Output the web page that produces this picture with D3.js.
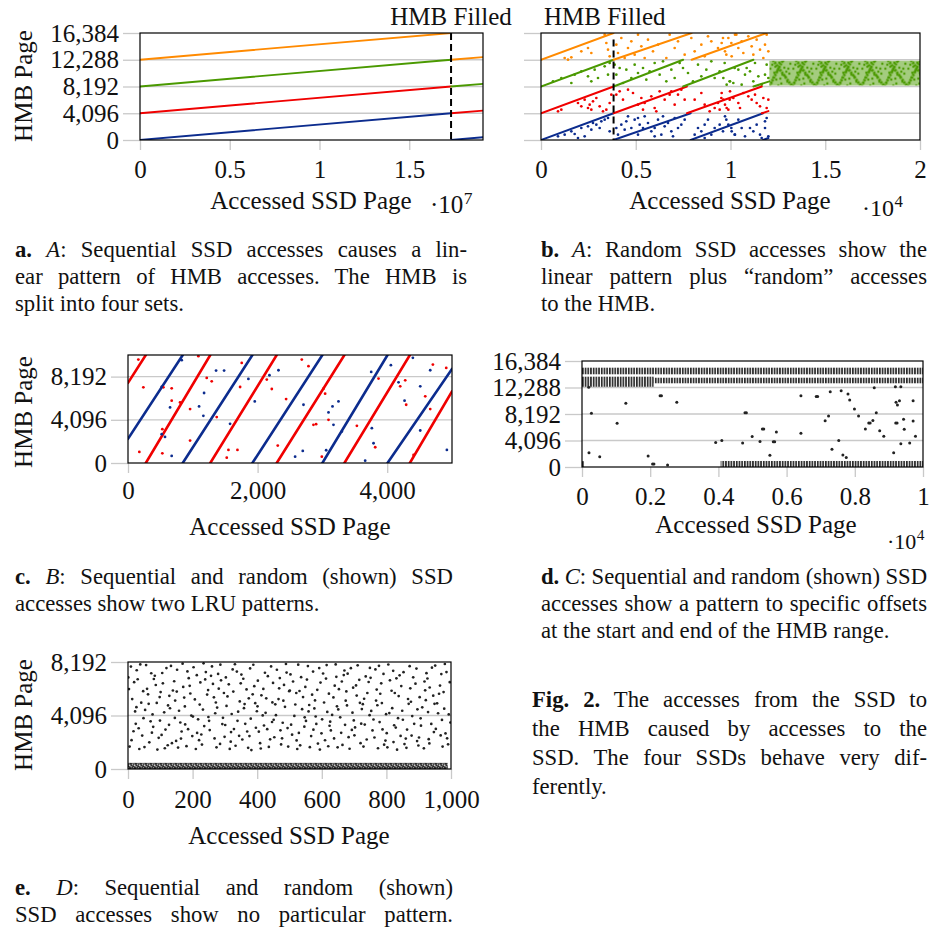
<!DOCTYPE html>
<html><head><meta charset="utf-8">
<script src="https://cdn.jsdelivr.net/npm/d3@7"></script>
<style>
html,body{margin:0;padding:0;background:#fff;}
svg text{font-family:"Liberation Serif","DejaVu Serif",serif;fill:#111;}
</style></head>
<body><svg id="fig" width="930" height="931"></svg>
<script>
// ---------------- DATA ----------------
const hmbTicks = [0, 4096, 8192, 12288, 16384];
// (a) sequential accesses, line segments [x0,y0,x1,y1]
const aFilled = 17330000;
const aBlue   = [[0,0,17330000,4096],[17330000,0,19110000,420]];
const aRed    = [[0,4096,17330000,8192],[17330000,4096,19110000,4500]];
const aGreen  = [[0,8192,17330000,12288],[17330000,8192,19110000,8600]];
const aOrange = [[0,12288,17330000,16384],[17330000,12288,19110000,12680]];
// (b) random accesses
const bFilled = 3830;
const bBlueLines   = [[0,0,3830,4096],[3830,0,7900,4096],[7900,0,11720,4096],[11720,0,12000,300]];
const bRedLines    = [[0,4096,3830,8192],[3830,4096,7700,8192],[7700,4096,11650,8192],[11650,4096,12000,4420]];
const bGreenLines  = [[0,8192,3830,12288],[3830,8192,7500,12288],[7500,8192,11210,12288],[11210,8192,12050,8980]];
const bOrangeLines = [[0,12288,3830,16384],[3830,12288,7950,16384],[7950,12288,11900,16384]];
const bBluePts = [[897,562],[1249,817],[1601,1327],[1777,919],[2128,1837],[2480,2093],[2656,1582],[2744,2603],[2920,2348],[3096,1837],[3184,2858],[3360,3113],[1952,306],[2304,562],[3624,1327],[3536,3368],
 [3975,1837],[4063,817],[4239,2348],[4415,1582],[4503,2858],[4591,3623],[4767,1837],[4943,3113],[5119,3368],[5207,2348],[5383,1837],[5470,3623],[5646,2603],[5822,1327],[5998,1837],[6174,3113],[6350,817],[6526,2093],[6702,2603],[6878,1327],[6966,562],[7054,3368],[7230,1837],[7405,2348],[7581,3113],[5119,817],[5998,562],[6438,3623],
 [8109,817],[8285,1837],[8461,1327],[8637,2348],[8812,3113],[8988,817],[9164,1837],[9428,2348],[9604,1327],[9780,3113],[10044,1837],[10220,817],[8637,306],
 [9710,3623],[9886,2348],[10061,1327],[10237,817],[10413,3113],[10589,1837],[10765,562],[11029,1837],[11205,1327],[11381,2348],[11557,817],[11645,306],[11821,1837],[11909,3368],[11997,562],[11821,2858]];
const bRedPts = [[897,4389],[1073,4644],[1952,5664],[2128,5154],[2304,6174],[2480,4899],[2568,5409],[2656,4644],[2744,5919],[2920,6429],[3096,5154],[3272,4389],[3448,4644],[3624,5664],[3712,6939],
 [3975,6939],[4151,7450],[4327,6174],[4591,7705],[4855,7194],[5119,5409],[5295,6429],[5383,4644],[5470,5664],[5822,6684],[5998,4899],[6086,4389],[6262,7450],[6526,6174],[6790,6939],[6878,7450],[7054,5409],[7230,6939],[7405,7705],[7581,6174],
 [8109,6174],[8461,7194],[8637,5409],[8900,4389],[9164,4899],[9340,5664],[9516,6429],[9428,4644],[9956,6174],
 [9534,7194],[9622,6174],[9710,5409],[9798,4899],[9886,4644],[9974,7450],[10149,6429],[10413,5664],[10501,4899],[10677,7194],[10941,6684],[11117,6174],[11293,6939],[11381,5664],[11557,5154],[11733,6429],[11909,4899],[11997,6174]];
const bGreenPts = [[633,8982],[1073,9493],[1601,8727],[1777,10003],[2128,10513],[2480,9748],[2656,8982],[2832,10768],[3008,9493],[3360,11279],[3536,10003],[3624,11789],
 [3888,11534],[3975,10003],[4151,11023],[4327,8727],[4503,10768],[4767,9493],[4943,11534],[5119,10258],[5383,11023],[5558,9238],[5734,10513],[5998,11789],[6262,10003],[6438,12044],[6614,8982],[6878,10768],[7054,9493],[7317,11789],[7493,11023],[7757,10258],
 [8021,8982],[8285,11534],[8461,9748],[8725,10768],[8988,12044],[9164,9493],[9428,10513],[9692,11789],[9956,8982],[10220,11023],
 [9622,9493],[9798,8472],[9974,8982],[10149,8727],[10413,10768],[10589,8472],[10765,10003],[10853,11023],[11029,10513],[11205,8982],[11293,11789],[11469,9748],[11645,8472],[11821,10003],[11909,11534],[11997,9493]];
const bOrangePts = [[1249,12555],[1425,12300],[1601,12657],[2128,13575],[2480,14086],[2656,13320],[3360,16126],[3448,14851],[3536,13830],[3624,12810],
 [3975,14596],[4063,13320],[4239,15616],[4415,12555],[4591,14086],[4767,15106],[4943,13065],[5119,16126],[5295,14341],[5470,12555],[5646,15361],[5910,13575],[6174,14596],[6614,12555],[6790,16126],[7054,14086],[7230,15106],[7581,13065],
 [7933,15616],[8109,13575],[8461,14596],[8637,12810],[8812,15871],[8988,15106],[9340,14086],[9604,15616],[9780,13065],[10044,14851],[10308,16126],
 [9534,14851],[9710,13575],[9886,15616],[10061,12810],[10237,16126],[10413,14086],[10589,15106],[10677,13320],[10941,15871],[11117,14341],[11205,13065],[11381,15361],[11557,13830],[11733,12555],[11821,14596],[11909,16126],[11997,13575]];
const bGreenBand = [12050, 20000, 8192, 12288]; // x0,x1,y0,y1 dense region
// (c) two LRU patterns
const cBlueLines = [[0,2290,845,10240],[845,0,1920,10240],[1920,0,3000,10240],[3000,0,4005,10240],[4005,0,5000,8925]];
const cRedLines  = [[0,7600,275,10240],[275,0,1270,10240],[1270,0,2295,10240],[2295,0,3340,10240],[3340,0,4350,10240],[4350,0,5000,6790]];
const cRedPts = [[160,9810],[237,7176],[175,1048],[530,920],[530,3207],[546,7176],[674,5906],[674,7080],[803,5747],[958,5112],[958,2127],[1086,10130],[1215,8065],[1292,7747],[1369,4350],[1524,508],[1550,1238],[1689,1238],[1730,7207],[1755,9493],[2142,7906],[2219,7017],[2440,6064],[2311,1651],[2682,9810],[2785,9176],[2862,3620],[2903,3683],[2991,603],[3017,7049],[3042,6572],[3094,4096],[3532,3524],[3866,8001],[3815,1492],[4201,7271],[4278,7842],[4293,5525],[4407,762],[4587,6318],[4664,5112],[4705,9335],[4911,9017]];
const cBluePts = [[829,9747],[520,7207],[520,2730],[571,2476],[649,5270],[674,667],[1097,5366],[1163,4477],[1174,6636],[1359,8763],[1483,8763],[1575,3715],[1858,7969],[1956,5842],[2183,8318],[2322,8795],[2708,5525],[2579,603],[2697,1143],[3058,1207],[3094,4794],[3156,5366],[3171,3620],[3248,5842],[3300,2984],[3660,222],[3753,8636],[3763,3302],[3789,1873],[4057,9271],[4175,7652],[4268,5906],[4396,9970],[4510,7271],[4510,3080],[4664,8795],[4921,1238]];
// (d) offsets at start and end of HMB range: dense bands [x0,x1,y0,y1]
const dBands = [[0,10000,14330,15350],[0,2100,12400,13960],[2100,10000,12940,13800],[4066,10000,0,930],[0,60,0,900]];
const dPts = [[197,12320],[276,8300],[205,2210],[520,1600],[1030,6750],[1285,9840],[1940,1700],[2070,470],[2110,470],[2290,11030],[2330,11030],[2510,320],[2780,10000],[3920,3800],[4100,4100],[4710,3700],[4780,8400],[4820,8400],[4990,4700],[5220,3930],[5290,5890],[5330,5890],[5510,1800],[5610,3900],[5650,3900],[5700,5400],[6420,11010],[6420,5200],[6870,10900],[6910,10900],[7130,7130],[7230,7900],[7280,11650],[7330,2750],[7530,4100],[7600,11800],[7650,1850],[7750,1480],[7800,11300],[7850,10350],[7990,8970],[8110,7900],[8310,5890],[8410,6820],[8450,6820],[8530,7180],[8570,12260],[8630,8400],[8730,5610],[8850,4750],[9140,2210],[9190,12410],[9200,6820],[9240,6820],[9210,9990],[9250,9600],[9310,10250],[9350,12410],[9350,3600],[9430,7380],[9450,5830],[9610,3710],[9710,10250],[9710,7120],[9780,4750]];
// (e) no particular pattern
const eBand = [0, 990, 0, 470];
const ePts = [
[3,6120],[17,2890],[9,7840],[22,4410],[5,1720],[13,5350],[24,3460],[1,7010],[19,6650],[11,2210],
[41,5080],[27,7560],[35,1530],[48,3890],[30,6870],[44,2560],[38,8010],[26,4730],[47,5960],[33,3120],
[66,2040],[53,4520],[72,7330],[59,6140],[51,1680],[70,3650],[62,5720],[56,7960],[74,2780],[64,4990],
[83,7140],[98,5510],[78,3230],[91,1490],[86,6430],[76,4180],[95,2390],[80,6890],[89,5060],[99,3710],
[104,2610],[119,7730],[112,4340],[101,5890],[123,1820],[108,6560],[116,3020],[124,4870],[106,7350],[114,1590],
[139,6010],[127,3380],[146,5240],[133,7890],[149,2150],[130,4650],[143,6720],[136,1980],[128,5600],[145,3910],
[158,4460],[171,6280],[152,7600],[166,2870],[174,5470],[155,1640],[162,3560],[169,8060],[151,5930],[164,2330],
[181,1750],[196,4090],[188,6950],[177,3410],[193,5780],[199,2520],[184,7470],[176,4790],[191,6370],[186,3050],
[207,5330],[220,2210],[213,7180],[201,4010],[224,6630],[210,1530],[217,3800],[203,7790],[222,4930],[214,2760],
[236,3290],[248,6040],[229,1870],[241,7420],[232,4550],[245,5700],[227,2640],[239,6860],[249,3980],[234,8090],
[263,6510],[253,2980],[270,4270],[257,7130],[274,1660],[266,5490],[251,3690],[260,7850],[268,2340],[272,5090],
[285,1920],[297,5820],[279,7280],[292,3440],[276,4700],[288,6790],[299,2460],[281,6150],[294,3920],[286,7990],
[305,4830],[318,2090],[312,6480],[301,3370],[324,7620],[308,5560],[315,1540],[321,4210],[303,7010],[319,2830],
[337,7460],[328,3060],[346,5170],[333,1780],[349,6560],[341,4390],[326,5930],[344,2540],[331,8020],[339,3690],
[354,2260],[367,6090],[359,4660],[372,1620],[351,7230],[363,3460],[374,5410],[357,6910],[369,2870],[361,4970],
[386,5720],[378,7700],[396,3160],[382,1450],[391,6340],[399,4420],[376,2520],[388,7980],[394,5040],[380,3850],
[409,1980],[402,6760],[417,4100],[424,7370],[405,2860],[413,5640],[421,3330],[401,4800],[419,6130],[411,1570],
[433,7110],[446,3600],[428,5410],[440,2270],[449,6590],[436,1690],[426,4300],[443,7850],[431,3050],[447,5100],
[458,4120],[470,6960],[453,2430],[466,5350],[474,1880],[461,7600],[451,3770],[468,6180],[456,4950],[472,2960],
[483,6440],[496,1720],[479,3540],[491,7380],[486,4760],[499,5960],[477,2350],[489,8040],[494,3130],[481,5230],
[508,2630],[521,5820],[503,7240],[515,4060],[524,1530],[511,6700],[505,3390],[518,4940],[501,6010],[522,2190],
[539,4580],[527,7990],[546,3240],[533,1810],[549,6280],[542,5510],[529,2760],[536,7030],[547,3960],[531,5970],
[554,6850],[567,2520],[559,4410],[573,7460],[551,3680],[563,1670],[570,5690],[557,7880],[574,3010],[561,4900],
[588,1950],[579,5250],[596,6620],[583,3450],[592,7730],[599,2730],[577,4640],[586,6060],[594,1490],[581,4020],
[604,7310],[617,4370],[610,2200],[622,5770],[601,3800],[613,6920],[620,1740],[607,5090],[624,3310],[615,7960],
[636,5480],[628,2950],[645,7060],[632,4140],[649,1660],[640,6380],[626,3620],[643,8010],[638,2340],[647,4800],
[657,3960],[670,7540],[653,6110],[664,1840],[674,5230],[660,2770],[668,7190],[651,4560],[672,3380],[662,6700],
[683,2440],[697,6230],[678,4870],[690,7720],[686,1550],[699,3720],[676,5940],[693,2990],[680,7300],[695,4310],
[708,5620],[720,1980],[703,3180],[716,6830],[724,4590],[711,7940],[701,2580],[718,5070],[706,6400],[722,3470],
[736,7090],[748,4120],[729,1720],[741,5820],[733,3400],[745,6660],[727,4960],[739,2260],[749,7740],[731,5380],
[757,2950],[770,6080],[753,4450],[766,7620],[774,1590],[760,3790],[768,5240],[751,6980],[763,2410],[772,4880],
[784,6560],[797,2180],[779,3590],[791,7280],[786,5050],[799,4200],[777,7900],[793,1860],[781,5760],[788,3030],
[809,4280],[821,7520],[803,1660],[816,5990],[824,3350],[811,6790],[801,2740],[818,4660],[806,8000],[822,2060],
[838,5580],[829,3170],[846,6350],[833,1480],[849,4460],[841,7170],[826,5820],[844,2530],[831,6940],[836,3890],
[856,1910],[869,4990],[853,7410],[864,3020],[874,6180],[860,2330],[867,5360],[851,3770],[872,7870],[862,1620],
[883,7020],[896,4570],[878,2560],[890,6530],[886,3460],[899,1800],[876,5150],[893,7690],[880,4050],[895,2140],
[907,3320],[920,6020],[903,5500],[916,1580],[924,7340],[911,4720],[901,2410],[918,6700],[906,3880],[922,5270],
[934,6240],[947,2830],[929,4360],[941,7760],[933,1960],[945,5610],[927,6930],[939,3450],[949,4990],[931,2280],
[957,5030],[970,7270],[953,3070],[966,6390],[974,1720],[960,4270],[968,2570],[951,7920],[963,5760],[972,3760],
[983,2720],[996,6650],[979,4620],[991,1890],[986,7420],[998,3560],[977,5890],[993,4180],[981,8040],[988,2350]];

const xLabel = "Accessed SSD Page", yLabel = "HMB Page", filledLabel = "HMB Filled";
// captions: each line = list of [text, style]  (b=bold, i=italic), j = justified
const capA = [{j:1,p:[["a.","b"],[" "],["A","i"],[": Sequential SSD accesses causes a lin-"]]},
              {j:1,p:[["ear pattern of HMB accesses. The HMB is"]]},
              {j:0,p:[["split into four sets."]]}];
const capB = [{j:1,p:[["b.","b"],[" "],["A","i"],[": Random SSD accesses show the"]]},
              {j:1,p:[["linear pattern plus \u201Crandom\u201D accesses"]]},
              {j:0,p:[["to the HMB."]]}];
const capC = [{j:1,p:[["c.","b"],[" "],["B","i"],[": Sequential and random (shown) SSD"]]},
              {j:0,p:[["accesses show two LRU patterns."]]}];
const capD = [{j:1,p:[["d.","b"],[" "],["C","i"],[": Sequential and random (shown) SSD"]]},
              {j:1,p:[["accesses show a pattern to specific offsets"]]},
              {j:0,p:[["at the start and end of the HMB range."]]}];
const capE = [{j:1,p:[["e.","b"],[" "],["D","i"],[": Sequential and random (shown)"]]},
              {j:1,p:[["SSD accesses show no particular pattern."]]}];
const capFig = [{j:1,p:[["Fig. 2.","b"],[" The accesses from the SSD to"]]},
                {j:1,p:[["the HMB caused by accesses to the"]]},
                {j:1,p:[["SSD. The four SSDs behave very dif-"]]},
                {j:0,p:[["ferently."]]}];

// ---------------- STYLE ----------------
const BLUE="#0c2c8e", RED="#f00000", GREEN="#4a9900", ORANGE="#ff8a00", DARK="#222";
const GRID="#c9c9c9", FS=25, CAP=22.7;
const svg = d3.select("#fig");
const defs = svg.append("defs");

function panel(o){
  const x = d3.scaleLinear().domain(o.xDomain).range([o.left,o.right]);
  const y = d3.scaleLinear().domain(o.yDomain).range([o.bottom,o.top]);
  const g = svg.append("g");
  g.append("g").selectAll("line").data(o.yGrid).join("line")
    .attr("x1",o.left).attr("x2",o.right).attr("y1",d=>y(d)).attr("y2",d=>y(d))
    .attr("stroke",GRID).attr("stroke-width",1.3);
  const ya = g.append("g").attr("transform",`translate(${o.left},0)`)
    .call(d3.axisLeft(y).tickValues(hmbTicks.filter(v=>v<=o.yDomain[1])).tickSize(17).tickPadding(4).tickFormat(o.yFmt));
  const xa = g.append("g").attr("transform",`translate(0,${o.bottom})`)
    .call(d3.axisBottom(x).tickValues(o.xTicks).tickSize(10).tickPadding(o.xPad).tickFormat(o.xFmt));
  [ya,xa].forEach(a=>{
    a.attr("font-family",null).attr("font-size",null);
    a.select(".domain").remove();
    a.selectAll(".tick line").attr("stroke",GRID).attr("stroke-width",1.3);
    a.selectAll(".tick text").attr("font-size",FS).attr("fill","#111");
  });
  const id="clip_"+o.name;
  defs.append("clipPath").attr("id",id).append("rect")
    .attr("x",o.left).attr("y",o.top).attr("width",o.right-o.left).attr("height",o.bottom-o.top);
  const data = g.append("g").attr("clip-path",`url(#${id})`);
  return {x,y,g,data,o};
}
function frame(P){
  const o=P.o;
  P.g.append("rect").attr("x",o.left).attr("y",o.top).attr("width",o.right-o.left).attr("height",o.bottom-o.top)
    .attr("fill","none").attr("stroke","#000").attr("stroke-width",1.2);
}
function segs(P, arr, color, w){
  P.data.selectAll(null).data(arr).join("line")
    .attr("x1",d=>P.x(d[0])).attr("y1",d=>P.y(d[1])).attr("x2",d=>P.x(d[2])).attr("y2",d=>P.y(d[3]))
    .attr("stroke",color).attr("stroke-width",w).attr("stroke-linecap","round");
}
function dots(P, arr, color, r){
  P.data.selectAll(null).data(arr).join("circle")
    .attr("cx",d=>P.x(d[0])).attr("cy",d=>P.y(d[1])).attr("r",r).attr("fill",color);
}
function xTitle(cx, base){ svg.append("text").attr("x",cx).attr("y",base).attr("text-anchor","middle").attr("font-size",FS).text(xLabel); }
function yTitle(cx, cy){ svg.append("text").attr("transform",`translate(${cx},${cy}) rotate(-90)`).attr("text-anchor","middle").attr("font-size",FS).text(yLabel); }
function expo(x, base, e, fs){
  const t=svg.append("text").attr("x",x).attr("y",base).attr("font-size",fs).text("\u00B710");
  svg.append("text").attr("x",x+t.node().getComputedTextLength()+0.5).attr("y",base-9).attr("font-size",fs*0.7).text(e);
}
function caption(x, y0, width, lh, lines){
  lines.forEach((ln,i)=>{
    const t=svg.append("text").attr("x",x).attr("y",y0+i*lh).attr("font-size",CAP);
    ln.p.forEach(p=>{
      const s=t.append("tspan").text(p[0]);
      if(p[1]==="b") s.attr("font-weight","bold");
      if(p[1]==="i") s.attr("font-style","italic");
    });
    if(ln.j){
      const w=t.node().getComputedTextLength();
      const n=(t.text().match(/ /g)||[]).length;
      if(n) t.attr("word-spacing",((width-w)/n).toFixed(2));
    }
  });
}
const f1 = d3.format(",");
const fr = k => d => String(+(d/k).toFixed(2));

// ---------------- (a) ----------------
const A = panel({name:"a",left:140,right:483,top:33,bottom:140,xDomain:[0,19110000],yDomain:[0,16384],
  yGrid:[4096,8192,12288],yFmt:f1,xTicks:[0,5e6,1e7,1.5e7],xFmt:fr(1e7),xPad:10});
segs(A,aBlue,BLUE,1.8); segs(A,aRed,RED,1.8); segs(A,aGreen,GREEN,1.8); segs(A,aOrange,ORANGE,1.8);
A.g.append("line").attr("x1",A.x(aFilled)).attr("x2",A.x(aFilled)).attr("y1",A.y(16384)).attr("y2",A.y(0))
  .attr("stroke","#000").attr("stroke-width",2).attr("stroke-dasharray","7,4");
frame(A);
svg.append("text").attr("x",A.x(aFilled)).attr("y",25).attr("text-anchor","middle").attr("font-size",FS).text(filledLabel);
xTitle(311,209); yTitle(32,86); expo(430,213,"7",25);

// ---------------- (b) ----------------
const B = panel({name:"b",left:541,right:920,top:33,bottom:140,xDomain:[0,20000],yDomain:[0,16384],
  yGrid:[4096,8192,12288],yFmt:()=>"",xTicks:[0,5000,10000,15000,20000],xFmt:fr(1e4),xPad:10});
(function(){
  const x0=B.x(bGreenBand[0]), x1=B.x(bGreenBand[1]), yt=B.y(bGreenBand[3]), yb=B.y(bGreenBand[2]), H=yb-yt, W=23;
  const pat=defs.append("pattern").attr("id","gband").attr("patternUnits","userSpaceOnUse")
    .attr("x",x0).attr("y",yt).attr("width",W).attr("height",H);
  pat.append("rect").attr("width",W).attr("height",H).attr("fill",GREEN).attr("opacity",0.5);
  pat.append("path").attr("d",`M0,${H} L${W*0.6},0 M${W*0.15},0 L${W},${H}`).attr("stroke",GREEN)
    .attr("stroke-width",2.8).attr("stroke-dasharray","2.2,0.8").attr("fill","none");
  [[3,5],[7,20],[15,8],[18,22],[5,13],[12,24],[20,14],[10,3],[2,23],[16,17],[21,4],[8,11],[13,15],[1,9],
   [19,9],[4,18],[9,26],[14,1],[22,25],[6,7],[17,12],[11,19]].forEach(p=>
    pat.append("circle").attr("cx",p[0]).attr("cy",p[1]*H/27).attr("r",1.2).attr("fill",GREEN));
  B.data.append("rect").attr("x",x0).attr("y",yt+1).attr("width",x1-x0).attr("height",H-2).attr("fill","url(#gband)");
})();
dots(B,bBluePts,BLUE,1.35); dots(B,bRedPts,RED,1.35); dots(B,bGreenPts,GREEN,1.35); dots(B,bOrangePts,ORANGE,1.35);
segs(B,bBlueLines,BLUE,2); segs(B,bRedLines,RED,2); segs(B,bGreenLines,GREEN,2); segs(B,bOrangeLines,ORANGE,2);
B.g.append("line").attr("x1",B.x(bFilled)).attr("x2",B.x(bFilled)).attr("y1",B.y(15400)).attr("y2",B.y(0))
  .attr("stroke","#000").attr("stroke-width",2).attr("stroke-dasharray","7,4");
frame(B);
svg.append("text").attr("x",544).attr("y",25).attr("font-size",FS).text(filledLabel);
xTitle(730,209); expo(862,216,"4",24);

// ---------------- (c) ----------------
const C = panel({name:"c",left:128,right:452,top:355,bottom:463,xDomain:[0,5000],yDomain:[0,10240],
  yGrid:[4096,8192],yFmt:f1,xTicks:[0,2000,4000],xFmt:f1,xPad:8});
segs(C,cBlueLines,BLUE,2.6); segs(C,cRedLines,RED,2.6);
dots(C,cRedPts,RED,1.4); dots(C,cBluePts,BLUE,1.4);
frame(C);
xTitle(290,535); yTitle(32,412);

// ---------------- (d) ----------------
const D = panel({name:"d",left:582,right:923,top:361,bottom:467,xDomain:[0,10000],yDomain:[0,16384],
  yGrid:[4096,8192,12288],yFmt:f1,xTicks:[0,2000,4000,6000,8000,10000],xFmt:fr(1e4),xPad:10});
(function(){
  const pat=defs.append("pattern").attr("id","dbars").attr("patternUnits","userSpaceOnUse")
    .attr("x",D.x(0)).attr("y",0).attr("width",2.7).attr("height",10);
  pat.append("rect").attr("x",0).attr("width",1.7).attr("height",10).attr("fill","#2b2b2b");
  D.data.selectAll(null).data(dBands).join("rect")
    .attr("x",d=>D.x(d[0])).attr("width",d=>D.x(d[1])-D.x(d[0]))
    .attr("y",d=>D.y(d[3])).attr("height",d=>D.y(d[2])-D.y(d[3])).attr("fill","url(#dbars)");
})();
dots(D,dPts,DARK,1.5);
frame(D);
xTitle(756,533); expo(887,549,"4",22);

// ---------------- (e) ----------------
const E = panel({name:"e",left:128,right:451,top:662,bottom:769,xDomain:[0,1000],yDomain:[0,8192],
  yGrid:[4096],yFmt:f1,xTicks:[0,200,400,600,800,1000],xFmt:f1,xPad:11});
(function(){
  const h=E.y(0)-E.y(eBand[3]);
  const pat=defs.append("pattern").attr("id","edots").attr("patternUnits","userSpaceOnUse")
    .attr("x",E.x(0)).attr("y",E.y(eBand[3])).attr("width",5).attr("height",h);
  [[0.8,1.2],[3.2,2.6],[1.6,4.2],[4.2,5.0],[2.4,0.8],[0.4,3.4],[3.8,0.6],[2.6,h-0.9],[4.6,3.2],[1.2,h-0.5]].forEach(p=>
    pat.append("circle").attr("cx",p[0]).attr("cy",p[1]).attr("r",1.0).attr("fill",DARK));
  E.data.append("rect").attr("x",E.x(eBand[0])).attr("width",E.x(eBand[1])-E.x(eBand[0]))
    .attr("y",E.y(eBand[3])).attr("height",h).attr("fill","url(#edots)");
})();
dots(E,ePts,DARK,1.35);
frame(E);
xTitle(289,844); yTitle(32,715);

// ---------------- captions ----------------
caption(15,257,452,26.8,capA);
caption(541,257,386,26.8,capB);
caption(15,584,438,26.8,capC);
caption(541,584,386,26.8,capD);
caption(15,895,438,27,capE);
caption(532,707,395,29,capFig);
</script>
</body></html>
